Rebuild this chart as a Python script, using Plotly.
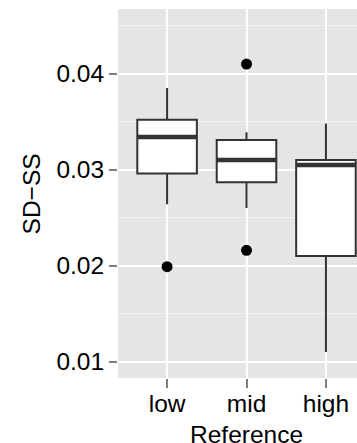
import plotly.graph_objects as go

# Box-plot summaries of SD-SS by reference level
categories = ["low", "mid", "high"]
q1 = [0.0296, 0.0287, 0.0210]
median = [0.0334, 0.0310, 0.0305]
q3 = [0.0352, 0.0331, 0.0310]
lower_whisker = [0.0264, 0.0260, 0.0110]
upper_whisker = [0.0385, 0.0339, 0.0348]

# Points beyond the whiskers
outlier_cat = ["low", "mid", "mid"]
outlier_val = [0.0199, 0.0410, 0.0216]

y_ticks = [0.01, 0.02, 0.03, 0.04]

pos = {c: i + 1 for i, c in enumerate(categories)}
xs = [pos[c] for c in categories]
box_w = 0.75
line_col = "#333333"
font = "Liberation Sans"
fsize = 24.5

fig = go.Figure()

fig.add_trace(go.Box(
    x=xs, q1=q1, median=median, q3=q3,
    lowerfence=lower_whisker, upperfence=upper_whisker,
    width=box_w, whiskerwidth=0,
    fillcolor="white", line=dict(color=line_col, width=2),
    boxpoints=False, hoverinfo="skip", showlegend=False,
))

# Thicker median bars drawn over each box
mx, my = [], []
for x, m in zip(xs, median):
    mx += [x - box_w / 2, x + box_w / 2, None]
    my += [m, m, None]
fig.add_trace(go.Scatter(
    x=mx, y=my, mode="lines", line=dict(color=line_col, width=4.5),
    hoverinfo="skip", showlegend=False,
))

fig.add_trace(go.Scatter(
    x=[pos[c] for c in outlier_cat], y=outlier_val, mode="markers",
    marker=dict(color="black", size=11),
    hoverinfo="skip", showlegend=False,
))

fig.update_layout(
    width=357, height=443,
    margin=dict(l=118, r=0, t=9, b=65),
    paper_bgcolor="white", plot_bgcolor="#E5E5E5",
    font=dict(family=font, size=fsize, color="black"),
    annotations=[
        dict(text="Reference", xref="x", yref="paper", x=2.0, y=-0.11,
             xanchor="center", yanchor="top", showarrow=False,
             font=dict(size=fsize, family=font, color="black")),
        dict(text="SD−SS", xref="paper", yref="paper", x=-0.36, y=0.5,
             xanchor="center", yanchor="middle", textangle=-90, showarrow=False,
             font=dict(size=fsize, family=font, color="black")),
    ],
)

fig.update_xaxes(
    range=[0.382, 3.391], tickvals=xs, ticktext=categories,
    showgrid=True, gridcolor="white", gridwidth=2, zeroline=False,
    ticks="outside", ticklen=9, tickwidth=2, tickcolor="#7F7F7F",
    ticklabelstandoff=-5,
    tickfont=dict(size=fsize, family=font, color="black"), showline=False,
)
fig.update_yaxes(
    range=[0.0083, 0.04674], tickvals=y_ticks,
    ticktext=[f"{v:.2f}" for v in y_ticks],
    showgrid=True, gridcolor="white", gridwidth=2, zeroline=False,
    minor=dict(tickvals=[0.015, 0.025, 0.035, 0.045], showgrid=True,
               gridcolor="#F2F2F2", gridwidth=1, ticks=""),
    ticks="outside", ticklen=8, tickwidth=2, tickcolor="#7F7F7F",
    tickfont=dict(size=fsize, family=font, color="black"), showline=False,
)

fig.write_html("out.html")
